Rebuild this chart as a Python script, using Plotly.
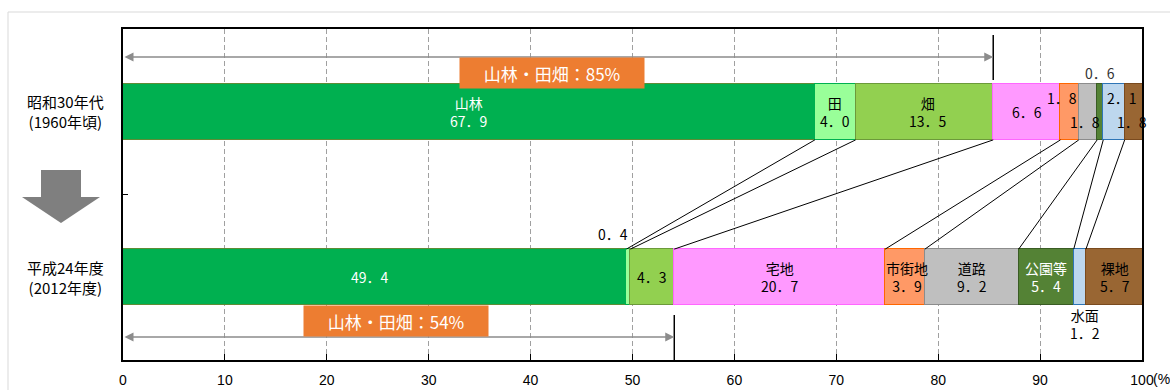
import plotly.graph_objects as go

# ---------------- data ----------------
categories = ["山林", "田", "畑", "宅地", "市街地", "道路", "公園等", "水面", "裸地"]
v1960 = [67.9, 4.0, 13.5, 6.6, 1.8, 1.8, 0.6, 2.1, 1.8]
v2012 = [49.4, 0.4, 4.3, 20.7, 3.9, 9.2, 5.4, 1.2, 5.7]
periods = ["昭和30年代<br>(1960年頃)", "平成24年度<br>(2012年度)"]
xtick_vals = [0, 10, 20, 30, 40, 50, 60, 70, 80, 90, 100]
forest_farm_groups = ["山林", "田", "畑"]

# ---------------- styles ----------------
fills = ["#00B050", "#99FF99", "#92D050", "#FF99FF", "#FF9966",
         "#BFBFBF", "#548235", "#BDD7EE", "#996633"]
edges = ["#5E8C35", "#00B050", "#6C9A3A", "#FF66FF", "#FF6600",
         "#8C8C8C", "#3A5C24", "#2E75B6", "#7A4A1E"]
# label style per row: (show name, xshift, yshift, font colour)
lab1960 = [(True, 0, 0, "white"), (True, 0, 0, "black"), (True, 4, 0, "black"),
           (False, 0, 0, "black"), (False, -8, 14, "black"), (False, -3, -10, "black"),
           (False, 0, 39, "#333333"), (False, 8, 14, "black"), (False, -2, -10, "black")]
lab2012 = [(False, -5, 0, "white"), (False, -15, 43, "black"), (False, 0, 0, "black"),
           (True, 0, 0, "black"), (True, 2, 0, "black"), (True, 0, 0, "black"),
           (True, 0, 0, "white"), (True, 5, -47, "black"), (True, 0, 0, "black")]

JP = "Noto Sans CJK JP"
BAR_W = 0.34

# plot-area geometry (pixels) for decoration placement
W, H = 1170, 390
L, R, T, B = 123, 1142, 29, 360


def px2x(px):
    return (px - L) / (R - L)


def py2y(py):
    return (B - py) / (B - T)


def fmt(v):
    return f"{v:.1f}".replace(".", "．")


fig = go.Figure()

for i, cat in enumerate(categories):
    fig.add_trace(go.Bar(
        orientation="h", y=[0, 1], x=[v1960[i], v2012[i]], name=cat,
        width=BAR_W, marker=dict(color=fills[i], line=dict(color=edges[i], width=1.5)),
        hoverinfo="x+name", showlegend=False))


def cumsum(vals):
    out, s = [], 0.0
    for v in vals:
        s += v
        out.append(round(s, 4))
    return out


c1 = cumsum(v1960)
c2 = cumsum(v2012)
lx, ly = [], []
for i in range(len(categories) - 1):
    lx += [c1[i], c2[i], None]
    ly += [0 + BAR_W / 2, 1 - BAR_W / 2, None]
fig.add_trace(go.Scatter(x=lx, y=ly, mode="lines", line=dict(color="black", width=1),
                         hoverinfo="skip", showlegend=False))

annotations = []
for row, (vals, cums, labs) in enumerate([(v1960, c1, lab1960), (v2012, c2, lab2012)]):
    for i, cat in enumerate(categories):
        show_name, xs, ys, col = labs[i]
        mid = cums[i] - vals[i] / 2
        txt = (cat + "<br>" if show_name else "") + fmt(vals[i])
        annotations.append(dict(x=mid, y=row, xref="x", yref="y", text=txt,
                                showarrow=False, xshift=xs, yshift=ys,
                                font=dict(family=JP, size=14, color=col)))

for row, p in enumerate(periods):
    annotations.append(dict(x=px2x(65), y=row, xref="paper", yref="y", text=p,
                            showarrow=False, xanchor="center",
                            font=dict(family=JP, size=15, color="black")))

tot1 = sum(v1960[categories.index(g)] for g in forest_farm_groups)
tot2 = sum(v2012[categories.index(g)] for g in forest_farm_groups)
shapes = []
for tot, ypx, vtop, vbot, bx in [(tot1, 57, 35, 80, -6), (tot2, 337, 315, 360, -3)]:
    yy = py2y(ypx)
    annotations.append(dict(x=tot, y=yy, ax=0, ay=yy, xref="x", yref="y domain",
                            axref="x", ayref="y domain", text="", showarrow=True,
                            arrowside="end+start", arrowhead=2, startarrowhead=2,
                            arrowsize=1.2, startarrowsize=1.2, arrowwidth=1.5,
                            arrowcolor="#8C8C8C", standoff=0, startstandoff=0))
    shapes.append(dict(type="line", xref="x", yref="paper", x0=tot, x1=tot,
                       y0=py2y(vtop), y1=py2y(vbot), line=dict(color="black", width=1.5)))
    annotations.append(dict(x=tot / 2, y=yy, xref="x", yref="paper", xshift=bx,
                            text=f"山林・田畑：{round(tot)}%", showarrow=False,
                            bgcolor="#ED7D31", width=182, height=28,
                            font=dict(family=JP, size=17, color="white")))

annotations.append(dict(x=px2x(1151), y=py2y(379), xref="paper", yref="paper",
                        text="(%)", showarrow=False, xanchor="left", yanchor="middle",
                        font=dict(family="Liberation Sans", size=14, color="black")))

pts = [(41, 170), (81, 170), (81, 197), (100, 197), (61, 223), (22, 197), (41, 197)]
path = "M " + " L ".join(f"{px2x(a):.5f},{py2y(b):.5f}" for a, b in pts) + " Z"
shapes.append(dict(type="path", xref="paper", yref="paper", path=path,
                   fillcolor="#7F7F7F", line=dict(width=0)))

shapes.append(dict(type="rect", xref="paper", yref="paper",
                   x0=px2x(8), x1=px2x(1190), y0=py2y(410), y1=py2y(12),
                   line=dict(color="#D9D9D9", width=1), layer="below"))

fig.update_layout(
    width=W, height=H, barmode="stack",
    margin=dict(l=L, r=W - R, t=T, b=H - B, autoexpand=False),
    plot_bgcolor="white", paper_bgcolor="white",
    annotations=annotations, shapes=shapes, bargap=0,
    font=dict(family=JP, color="black"),
)
fig.update_xaxes(range=[0, 100], tickvals=xtick_vals, ticks="inside", ticklen=6,
                 tickcolor="black", showline=True, mirror=True, linecolor="black",
                 linewidth=1.5, showgrid=True, gridcolor="#A0A0A0", griddash="5px,3px",
                 gridwidth=1, zeroline=False, ticklabelstandoff=6, automargin=False,
                 tickfont=dict(family="Liberation Sans", size=14, color="black"))
fig.update_yaxes(range=[1.5, -0.5], tickvals=[0.5], ticktext=[""], ticks="inside",
                 ticklen=5, tickcolor="black", showline=True, mirror=True, automargin=False,
                 linecolor="black", linewidth=1.5, showgrid=False, zeroline=False)

fig.write_html("out.html", config={"displayModeBar": False},
               post_script="document.body.style.margin='0';document.body.style.overflow='hidden';")
